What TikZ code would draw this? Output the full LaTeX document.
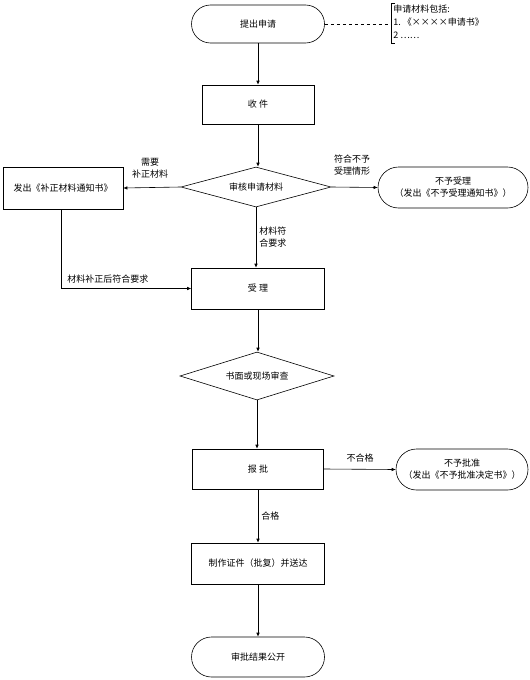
\documentclass[tikz,border=0pt]{standalone}
\usepackage{fontspec}
\setmainfont{Noto Sans CJK SC}
\usetikzlibrary{shapes.geometric,shapes.misc,arrows.meta}
\begin{document}
\begin{tikzpicture}[x=1pt,y=-1pt,
  font=\fontsize{9}{12}\selectfont,
  line width=0.6pt,
  box/.style={draw,rectangle,inner sep=0pt,minimum height=41pt},
  term/.style={draw,rounded rectangle,inner sep=0pt,minimum height=40pt,align=center},
  decide/.style={draw,diamond,inner sep=0pt},
  lbl/.style={inner sep=0pt,align=center},
  arr/.style={-{Latex[length=4pt,width=3.5pt]}}
]
\useasboundingbox (0,0) rectangle (530,680);

% main column
\node[term,minimum width=133pt,minimum height=38pt] (start) at (258,24) {提出申请};
\node[box,minimum width=112pt,minimum height=39pt] (recv) at (258,104.5) {收\ 件};
\node[decide,minimum width=150pt,minimum height=40pt,shape aspect=3.75] (check) at (256,187) {审核申请材料};
\node[box,minimum width=133pt] (accept) at (258,288.5) {受\ 理};
\node[decide,minimum width=154pt,minimum height=48pt,shape aspect=3.2] (review) at (257,376) {书面或现场审查};
\node[box,minimum width=131pt,minimum height=40pt] (report) at (258,469) {报\ 批};
\node[box,minimum width=133pt] (make) at (258,563.5) {制作证件（批复）并送达};
\node[term,minimum width=133pt] (pub) at (258,657) {审批结果公开};

% side nodes
\node[box,minimum width=120pt,minimum height=42pt] (fix) at (63,188) {发出《补正材料通知书》};
\node[term,minimum width=150pt,minimum height=41pt] (rej1) at (453,187.5) {不予受理\\（发出《不予受理通知书》）};
\node[term,minimum width=132pt,minimum height=41pt] (rej2) at (462,469.5) {不予批准\\（发出《不予批准决定书》）};

% annotation
\coordinate (brk) at (391,24);
\draw (395,3) -- (391,3) -- (391,43) -- (395,43);
\draw[dashed] (start.east) -- (brk);
\node[lbl,anchor=west] (n1) at (393,9) {申请材料包括:};
\node[lbl,anchor=west] (n2) at (393,22) {1.\ 《××××申请书》};
\node[lbl,anchor=west] (n3) at (393,35) {2\ ……};

% connectors
\draw[arr] (start.south) -- (start.south |- recv.north);
\draw[arr] (recv.south) -- (recv.south |- check.north);
\draw[arr] (check.west) -- (fix.east);
\draw[arr] (check.east) -- (rej1.west);
\draw[arr] (check.south) -- (check.south |- accept.north);
\draw[arr] (fix.south -| 61,0) |- (accept.west);
\draw[arr] (accept.south) -- (accept.south |- review.north);
\draw[arr] (review.south) -- (review.south |- report.north);
\draw[arr] (report.east) -- (rej2.west);
\draw[arr] (report.south) -- (report.south |- make.north);
\draw[arr] (make.south) -- (make.south |- pub.north);

% labels
\node[lbl] (l1) at (150,168) {需要\\补正材料};
\node[lbl] (l2) at (352,165) {符合不予\\受理情形};
\node[lbl,anchor=west,align=left] (l3) at (259,237) {材料符\\合要求};
\node[lbl,anchor=west] (l4) at (67,279) {材料补正后符合要求};
\node[lbl] (l5) at (360,458) {不合格};
\node[lbl,anchor=west] (l6) at (261,516) {合格};
\end{tikzpicture}
\end{document}
